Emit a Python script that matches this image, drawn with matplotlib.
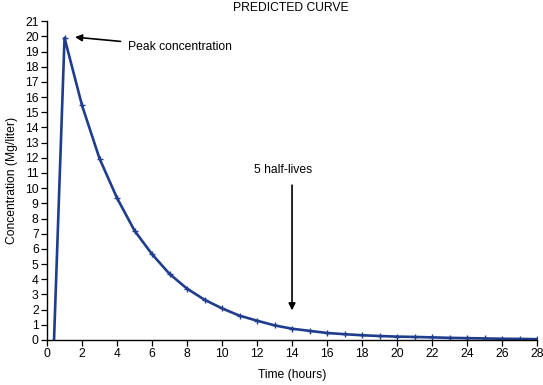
import matplotlib
matplotlib.use("Agg")
import matplotlib.pyplot as plt

plt.rcParams['font.family'] = ['Liberation Sans', 'DejaVu Sans']

hours = [0.4, 1, 2, 3, 4, 5, 6, 7, 8, 9, 10, 11, 12, 13, 14, 15, 16, 17, 18, 19, 20,
         21, 22, 23, 24, 25, 26, 27, 28]
conc = [0.0, 19.9, 15.45, 11.95, 9.35, 7.2, 5.65, 4.35, 3.38, 2.65, 2.08, 1.6, 1.27,
        0.96, 0.74, 0.6, 0.46, 0.38, 0.31, 0.26, 0.22, 0.2, 0.17, 0.14, 0.12, 0.1,
        0.08, 0.07, 0.05]
x_ticks = list(range(0, 29, 2))
y_ticks = list(range(0, 22))

fs = 8.7
fig = plt.figure(figsize=(5.43, 3.85), dpi=100)
ax = fig.add_axes([0.0866, 0.117, 0.9024, 0.828])

color = '#1f3d8c'
ax.plot(hours, conc, color=color, lw=1.9, solid_joinstyle='round')
ax.plot(hours[1:], conc[1:], ls='none', marker='+', ms=5, mew=1.0, color=color)

ax.set_xlim(0, 28)
ax.set_ylim(0, 21)
ax.set_xticks(x_ticks)
ax.set_yticks(y_ticks)
for s in ['top', 'right']:
    ax.spines[s].set_visible(False)
for s in ['left', 'bottom']:
    ax.spines[s].set_linewidth(1.0)
ax.tick_params(direction='out', length=4, width=0.9, labelsize=fs, pad=2)
ax.set_xlabel('Time (hours)', fontsize=fs, labelpad=6)
ax.set_ylabel('Concentration (Mg/liter)', fontsize=fs, labelpad=5)
ax.margins(0)
for sp in ax.spines.values():
    sp.set_clip_on(False)

fig.text(0.535, 0.978, 'PREDICTED CURVE', ha='center', va='center', fontsize=fs)

ax.annotate('Peak concentration', xy=(1.6, 19.95), xytext=(4.6, 19.3),
            fontsize=fs, va='center', ha='left',
            arrowprops=dict(arrowstyle='-|>', color='black', lw=1.2,
                            mutation_scale=10, shrinkA=3, shrinkB=0))
ax.text(13.5, 11.2, '5 half-lives', fontsize=fs, va='center', ha='center')
ax.annotate('', xy=(14, 1.95), xytext=(14, 10.2),
            arrowprops=dict(arrowstyle='-|>', color='black', lw=1.2,
                            mutation_scale=10, shrinkA=0, shrinkB=0))

fig.savefig('out.png', dpi=100)
